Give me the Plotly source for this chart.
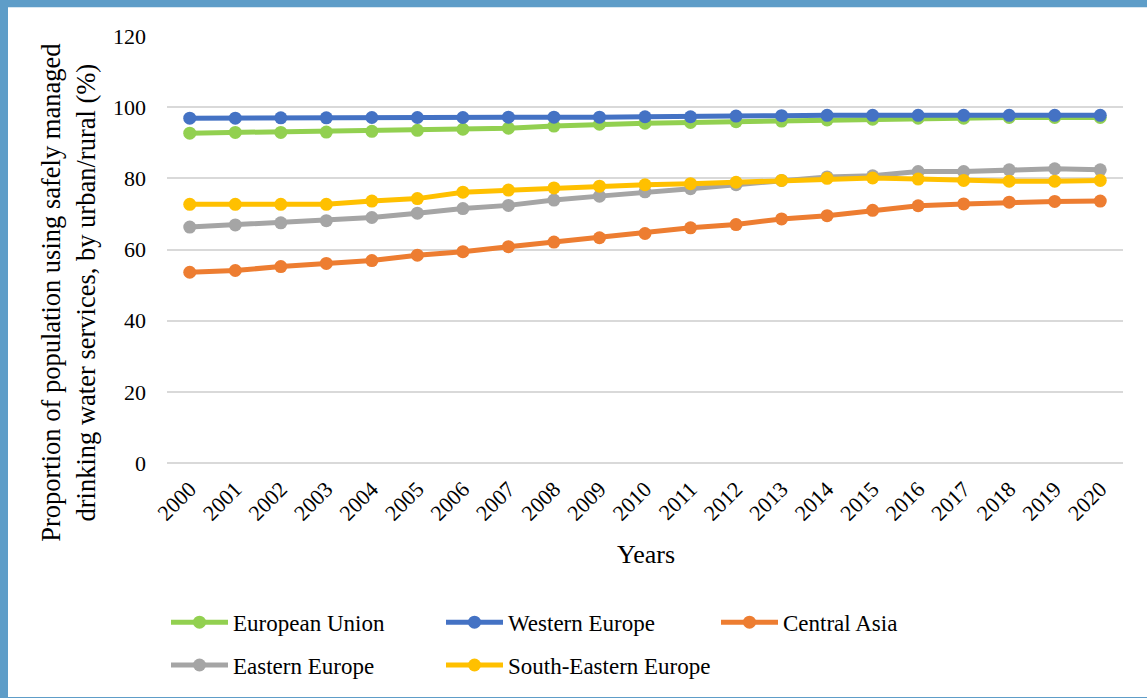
import plotly.graph_objects as go

years = [str(y) for y in range(2000, 2021)]
european_union = [92.7, 92.9, 92.9, 93.0, 93.2, 93.5, 93.8, 94.1, 94.7, 95.2, 95.5,
                  95.7, 95.9, 96.1, 96.4, 96.6, 96.9, 96.9, 97.1, 97.1, 97.1]
western_europe = [96.9, 96.9, 97.0, 97.0, 97.1, 97.1, 97.1, 97.2, 97.2, 97.2, 97.3,
                  97.3, 97.5, 97.6, 97.7, 97.7, 97.7, 97.7, 97.7, 97.7, 97.7]
central_asia = [53.6, 54.1, 55.2, 56.1, 56.9, 58.4, 59.4, 60.8, 62.1, 63.3, 64.5,
                66.1, 67.0, 68.6, 69.5, 71.0, 72.3, 72.8, 73.3, 73.5, 73.6]
eastern_europe = [66.3, 66.9, 67.5, 68.1, 69.0, 70.2, 71.5, 72.4, 73.9, 75.0, 76.2,
                  77.1, 78.2, 79.4, 80.4, 80.7, 81.9, 81.9, 82.4, 82.7, 82.4]
south_eastern_europe = [72.7, 72.7, 72.7, 72.7, 73.6, 74.3, 76.1, 76.7, 77.3, 77.8, 78.2,
                        78.5, 78.9, 79.4, 80.0, 80.1, 79.8, 79.4, 79.2, 79.2, 79.4]

series = [
    ("European Union", european_union, "#92D050", "legend"),
    ("Western Europe", western_europe, "#4472C4", "legend"),
    ("Central Asia", central_asia, "#ED7D31", "legend"),
    ("Eastern Europe", eastern_europe, "#A5A5A5", "legend2"),
    ("South-Eastern Europe", south_eastern_europe, "#FFC000", "legend2"),
]

W, H = 1147, 698
L, R, T, B = 167, 24, 36, 233
pw, ph = W - L - R, H - T - B


def px(x):
    return (x - L) / pw


def py(y):
    return (H - B - y) / ph


FONT = "Liberation Serif"

fig = go.Figure()
for name, vals, color, lg in series:
    fig.add_trace(go.Scatter(
        x=years, y=vals, name=name, mode="lines+markers",
        line=dict(color=color, width=5),
        marker=dict(color=color, size=13),
        legend=lg,
    ))

fig.add_shape(type="rect", xref="paper", yref="paper",
              x0=px(8), x1=px(W + 2), y0=py(H + 2), y1=py(7),
              fillcolor="white", line=dict(width=0), layer="below")

fig.add_annotation(
    text="Proportion of population using safely managed<br>drinking water services, by urban/rural (%)",
    xref="paper", yref="paper", x=px(68), y=py(294), textangle=-90,
    xanchor="center", yanchor="middle", showarrow=False,
    font=dict(family=FONT, size=26.5, color="#000"),
)
fig.add_annotation(
    text="Years", xref="paper", yref="paper", x=px(646), y=py(557),
    xanchor="center", yanchor="middle", showarrow=False,
    font=dict(family=FONT, size=26, color="#000"),
)

legend_common = dict(
    orientation="h", xanchor="left", yanchor="middle",
    font=dict(family=FONT, size=23, color="#000"),
    bgcolor="rgba(0,0,0,0)", itemwidth=57, entrywidth=203,
    traceorder="normal",
)

fig.update_layout(
    width=W, height=H,
    margin=dict(l=L, r=R, t=T, b=B),
    paper_bgcolor="#5E9DC8",
    plot_bgcolor="white",
    showlegend=True,
    legend=dict(x=px(166), y=py(625), **legend_common),
    legend2=dict(x=px(166), y=py(668), **legend_common),
    xaxis=dict(
        type="category", range=[-0.5, 20.5], showgrid=False, zeroline=False,
        showline=False, ticks="", tickangle=-45, ticklabelstandoff=8,
        tickfont=dict(family=FONT, size=22, color="#000"),
    ),
    yaxis=dict(
        range=[0, 120], dtick=20, showgrid=True, gridcolor="#D9D9D9", gridwidth=1.5,
        zeroline=True, zerolinecolor="#D9D9D9", zerolinewidth=1.5,
        showline=False, ticks="", ticklabelstandoff=20,
        tickfont=dict(family=FONT, size=22, color="#000"),
    ),
)

fig.write_html("out.html")
